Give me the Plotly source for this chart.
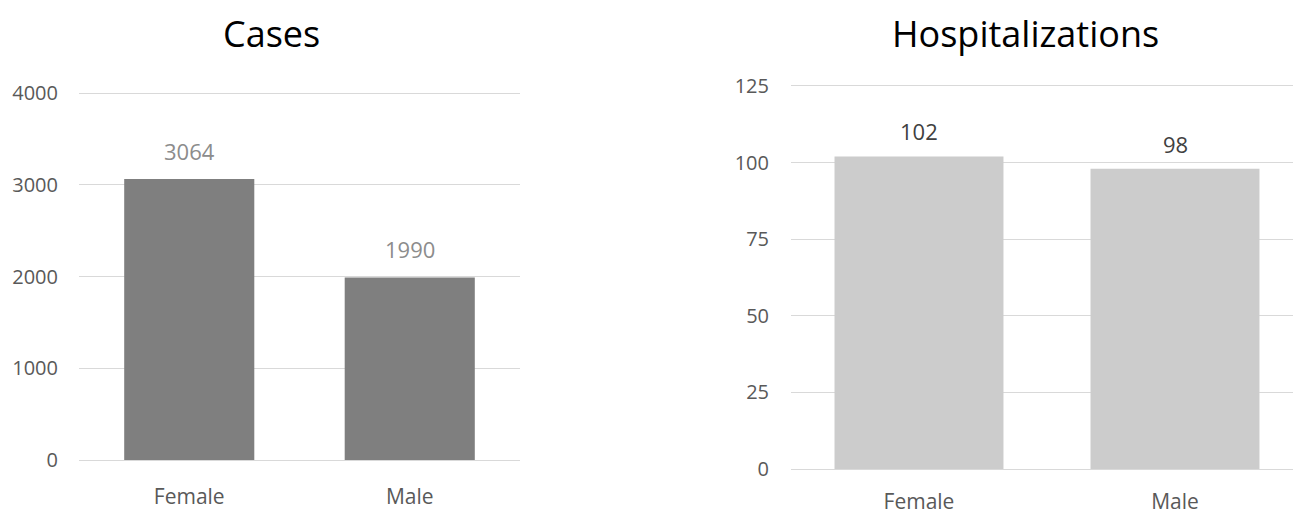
import plotly.graph_objects as go

# data
categories = ["Female", "Male"]
cases = [3064, 1990]
hospitalizations = [102, 98]
cases_ticks = [0, 1000, 2000, 3000, 4000]
hosp_ticks = [0, 25, 50, 75, 100, 125]

FONT = "Open Sans"
GRID = "#d9d9d9"
TICK_COLOR = "#595959"
W, H = 1301, 516
OFF = 8  # page body margin shifts the figure by this much


def px(x):
    return min(1.0, (x - OFF) / W)


def py(y):
    return 1 - (y - OFF) / H


fig = go.Figure()

fig.add_trace(go.Bar(
    x=categories, y=cases, width=0.59,
    marker=dict(color="#7f7f7f", line=dict(width=0)),
    xaxis="x", yaxis="y", showlegend=False, hoverinfo="x+y",
))
fig.add_trace(go.Bar(
    x=categories, y=hospitalizations, width=0.66,
    marker=dict(color="#cccccc", line=dict(width=0)),
    xaxis="x2", yaxis="y2", showlegend=False, hoverinfo="x+y",
))

# value labels above the bars
annotations = []
for c, v in zip(categories, cases):
    annotations.append(dict(
        x=c, y=v, xref="x", yref="y", text=str(v), showarrow=False,
        yanchor="bottom", yshift=11, font=dict(family=FONT, size=22, color="#8c8c8c"),
    ))
for c, v in zip(categories, hospitalizations):
    annotations.append(dict(
        x=c, y=v, xref="x2", yref="y2", text=str(v), showarrow=False,
        yanchor="bottom", yshift=8, font=dict(family=FONT, size=22, color="#404040"),
    ))

# subplot titles
for label, cx in [("Cases", 271), ("Hospitalizations", 1025)]:
    annotations.append(dict(
        x=px(cx), y=1, xref="paper", yref="paper", text=label,
        showarrow=False, xanchor="center", yanchor="top", borderpad=0,
        font=dict(family=FONT, size=36, color="#000000"),
    ))

xaxis_style = dict(
    showgrid=False, zeroline=False, showline=False, ticks="", automargin=False,
    tickfont=dict(family=FONT, size=21, color=TICK_COLOR), fixedrange=True,
)
yaxis_style = dict(
    showgrid=True, gridcolor=GRID, gridwidth=1, zeroline=True, zerolinecolor=GRID,
    zerolinewidth=1, showline=False, ticks="", automargin=False,
    tickfont=dict(family=FONT, size=20, color=TICK_COLOR), fixedrange=True,
)

fig.update_layout(
    width=W, height=H,
    margin=dict(l=0, r=0, t=0, b=0),
    paper_bgcolor="white", plot_bgcolor="white",
    annotations=annotations,
    xaxis=dict(domain=[px(79), px(520)], anchor="y", ticklabelstandoff=22, **xaxis_style),
    # range top padded a little so the top gridline is drawn
    yaxis=dict(domain=[py(460), py(91)], anchor="x",
               range=[0, 4022], tickvals=cases_ticks, ticklabelstandoff=20, **yaxis_style),
    xaxis2=dict(domain=[px(791), px(1303)], anchor="y2", ticklabelstandoff=18, **xaxis_style),
    yaxis2=dict(domain=[py(469), py(84)], anchor="x2",
                range=[0, 125.65], tickvals=hosp_ticks, ticklabelstandoff=21, **yaxis_style),
)

fig.write_html("out.html")
